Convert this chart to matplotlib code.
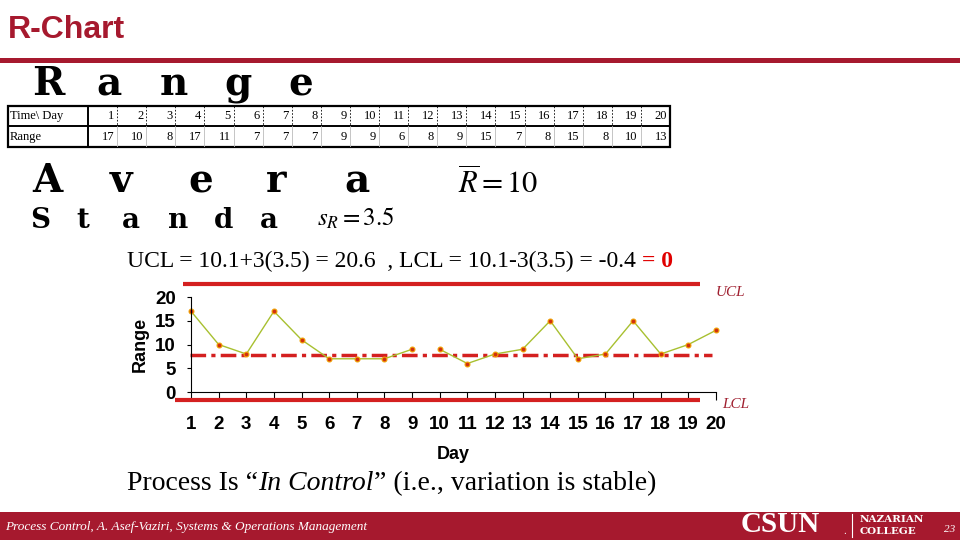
import matplotlib
matplotlib.use("Agg")
import matplotlib.pyplot as plt
from matplotlib.patches import Rectangle
from matplotlib.lines import Line2D

plt.rcParams['mathtext.fontset'] = 'stix'

days = list(range(1, 21))
ranges = [17, 10, 8, 17, 11, 7, 7, 7, 9, 9, 6, 8, 9, 15, 7, 8, 15, 8, 10, 13]
center_line = 7.8      # dash-dot line as drawn on the slide
ucl_drawn = 22.7       # solid red limits as drawn on the slide
lcl_drawn = -1.7

RED = '#A6192E'
LINE_RED = '#D42020'
SERIF = ['Liberation Serif', 'DejaVu Serif']
SANS = ['Liberation Sans', 'DejaVu Sans']

fig = plt.figure(figsize=(9.6, 5.4), dpi=100)
W, H = 960, 540


def fx(x):
    return x / W


def fy(y):
    return 1 - y / H


# title and top bar
fig.text(fx(8), fy(30), 'R-Chart', fontsize=23, fontweight='bold', color=RED,
         va='center', family=SANS)
fig.add_artist(Rectangle((0, fy(63)), 1, 5 / H, transform=fig.transFigure,
                         color=RED, lw=0))


# stretched headings, drawn letter by letter
def heading(word, x0, pitch, y, size):
    for i, ch in enumerate(word):
        fig.text(fx(x0 + i * pitch), fy(y), ch, fontsize=size, fontweight='bold',
                 family=['DejaVu Serif'], va='baseline', ha='left')


heading('Range', 32, 64, 95, 28)
heading('Avera', 32, 78, 192, 28)
heading('Standa', 30, 46, 228, 20)

# data table
tx0, tx1, ty0, ty1 = 8, 670, 106, 147
tax = fig.add_axes([fx(tx0), fy(ty1), (tx1 - tx0) / W, (ty1 - ty0) / H])
tax.set_xlim(0, tx1 - tx0)
tax.set_ylim(2, 0)
tax.axis('off')
first = 80
cw = (tx1 - tx0 - first) / len(days)
tax.add_patch(Rectangle((0, 0), tx1 - tx0, 2, fill=False, lw=1.6, ec='black',
                        clip_on=False))
tax.plot([0, tx1 - tx0], [1, 1], color='black', lw=1.4)
tax.plot([first, first], [0, 2], color='black', lw=1.4)
for i in range(1, len(days)):
    xx = first + i * cw
    tax.plot([xx, xx], [0, 1], color='black', lw=0.6, ls=(0, (2, 2)))
    tax.plot([xx, xx], [1, 2], color='#bbbbbb', lw=0.6)
tax.text(2, 0.5, 'Time\\ Day', va='center', ha='left', fontsize=9, family=SERIF)
tax.text(2, 1.5, 'Range', va='center', ha='left', fontsize=9, family=SERIF)
for i, (d, r) in enumerate(zip(days, ranges)):
    xr = first + (i + 1) * cw - 3
    tax.text(xr, 0.5, str(d), va='center', ha='right', fontsize=9, family=SERIF)
    tax.text(xr, 1.5, str(r), va='center', ha='right', fontsize=9, family=SERIF)

# formulas
fig.text(fx(458), fy(183), r'$\overline{R}=10$', fontsize=22, va='center')
fig.text(fx(317), fy(218), r'$s_R=3.5$', fontsize=18, va='center')

# chart axes
ax = fig.add_axes([fx(171.7), 136.1 / H, (729.8 - 171.7) / W, 123.5 / H])
ax.set_xlim(0.3, 20.5)
ax.set_ylim(-2.5, 23.5)
ax.patch.set_alpha(0)

ax.hlines(ucl_drawn, 0.71, 19.43, colors=LINE_RED, lw=3)
ax.hlines(lcl_drawn, 0.42, 19.43, colors=LINE_RED, lw=3)
ax.hlines(center_line, 0.96, 19.86, colors=LINE_RED, lw=2.5,
          linestyles=(0, (4.5, 1.5, 1.2, 1.5)))

style = dict(color='#A8C030', lw=1, marker='o', ms=3.5, mfc='#D03010', mec='#F0A000',
             mew=0.8)
ax.plot(days[:9], ranges[:9], **style)
ax.plot(days[9:], ranges[9:], **style)

for s in ('top', 'right'):
    ax.spines[s].set_visible(False)
ax.spines['left'].set_position(('data', 1))
ax.spines['left'].set_bounds(0, 20)
ax.spines['bottom'].set_position(('data', 0))
ax.spines['bottom'].set_bounds(1, 20)
ax.set_xticks(days)
ax.set_yticks([0, 5, 10, 15, 20])
ax.tick_params(axis='x', length=6, pad=11)
ax.tick_params(axis='y', length=3, pad=8)
for lab in ax.get_xticklabels() + ax.get_yticklabels():
    lab.set_fontweight('bold')
    lab.set_family(SANS)
    lab.set_fontsize(13.5)
ax.set_xlabel('Day', fontsize=13, fontweight='bold', family=SANS, va='center')
ax.xaxis.set_label_coords(0.504, -0.41)
ax.set_ylabel('Range', fontsize=13, fontweight='bold', family=SANS, va='center')
ax.yaxis.set_label_coords(-0.057, 0.485)

fig.text(fx(716), fy(292), 'UCL', fontsize=11, style='italic', family=SERIF,
         color='#A02030', va='center')
fig.text(fx(722), fy(405), 'LCL', fontsize=11, style='italic', family=SERIF,
         color='#A02030', va='center')

# limit formula text
t1 = fig.text(fx(127), fy(267), 'UCL = 10.1+3(3.5) = 20.6  , LCL = 10.1-3(3.5) = -0.4 ',
              fontsize=17, family=SERIF, va='baseline')
ax.annotate('= 0', xy=(1, 0), xycoords=t1, va='bottom', ha='left', fontsize=17,
            family=SERIF, fontweight='bold', color='#E00000', annotation_clip=False)

# conclusion
p1 = fig.text(fx(127), fy(490), 'Process Is \u201c', fontsize=20, family=SERIF,
              va='baseline')
p2 = ax.annotate('In Control', xy=(1, 0), xycoords=p1, va='bottom', ha='left',
                 fontsize=20, family=SERIF, style='italic', annotation_clip=False)
ax.annotate('\u201d (i.e., variation is stable)', xy=(1, 0), xycoords=p2, va='bottom',
            ha='left', fontsize=20, family=SERIF, annotation_clip=False)

# footer band
fig.add_artist(Rectangle((0, 0), 1, 28 / H, transform=fig.transFigure, color=RED, lw=0))
fig.text(fx(5), fy(527), 'Process Control, A. Asef-Vaziri, Systems & Operations Management',
         fontsize=9.5, style='italic', family=SERIF, color='white', va='center')
fig.text(fx(741), fy(525), 'CSUN', fontsize=21, fontweight='bold', family=SERIF,
         color='white', va='center')
fig.text(fx(843), fy(531), '.', fontsize=8, family=SERIF, color='white', va='center')
fig.add_artist(Line2D([fx(852), fx(852)], [fy(537), fy(514)], transform=fig.transFigure,
                      color='white', lw=0.8))
fig.text(fx(860), fy(520), 'NAZARIAN', fontsize=7.5, fontweight='bold',
         family=['DejaVu Serif'], color='white', va='center')
fig.text(fx(860), fy(531), 'COLLEGE', fontsize=7.5, fontweight='bold',
         family=['DejaVu Serif'], color='white', va='center')
fig.text(fx(944), fy(530), '23', fontsize=8, style='italic', family=SERIF,
         color='white', va='center')

fig.savefig('out.png', dpi=100, facecolor='white')
